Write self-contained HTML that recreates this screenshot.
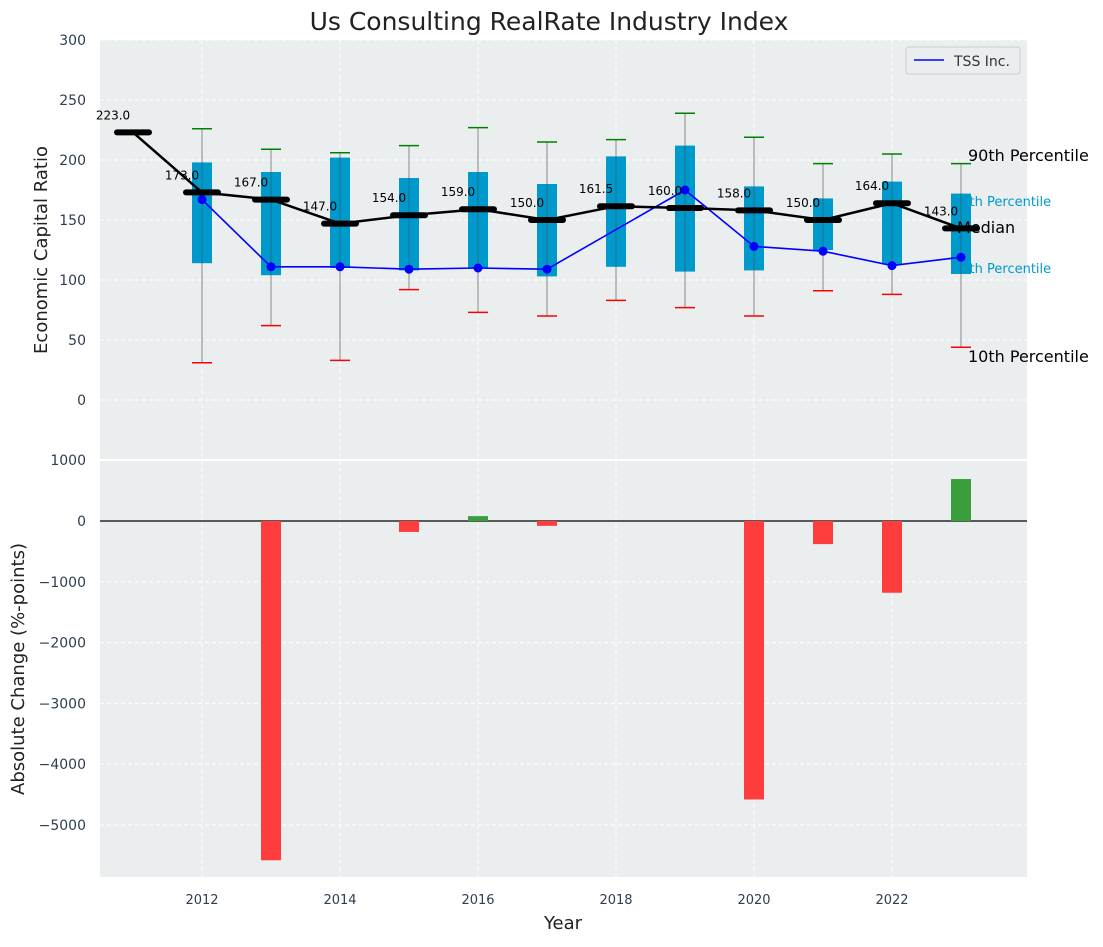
<!DOCTYPE html>
<html><head><meta charset="utf-8"><style>
body{margin:0;background:#fff;font-family:"Liberation Sans","DejaVu Sans",sans-serif}
svg text{font-family:"DejaVu Sans","Liberation Sans",sans-serif}
</style></head><body>
<svg id="c" width="1103" height="942" xmlns="http://www.w3.org/2000/svg"></svg>
<script>
const years=[2011,2012,2013,2014,2015,2016,2017,2018,2019,2020,2021,2022,2023];
const medians=[223,173,167,147,154,159,150,161.5,160,158,150,164,143];
const q25=[null,114,104,110,108,110,103,111,107,108,125,113,105];
const q75=[null,198,190,202,185,190,180,203,212,178,168,182,172];
const p10=[null,31,62,33,92,73,70,83,77,70,91,88,44];
const p90=[null,226,209,206,212,227,215,217,239,219,197,205,197];
const tssYears=[2012,2013,2014,2015,2016,2017,2019,2020,2021,2022,2023];
const tss=[167,111,111,109,110,109,175,128,124,112,119];
const chgYears=[2013,2015,2016,2017,2020,2021,2022,2023];
const chg=[-5580,-180,80,-80,-4580,-380,-1180,690];
const topTicks=[0,50,100,150,200,250,300];
const botTicks=[1000,0,-1000,-2000,-3000,-4000,-5000];
const xTicks=[2012,2014,2016,2018,2020,2022];

const NS="http://www.w3.org/2000/svg",svg=document.getElementById('c');
function el(t,a,p){const e=document.createElementNS(NS,t);for(const k in a)e.setAttribute(k,a[k]);(p||svg).appendChild(e);return e;}
const X=y=>202+(y-2012)*69;
const Y1=v=>400-v*1.2;
const Y2=v=>521-v*0.0608;
const L=100,R=1027;
let e;
e=el('rect',{x:L,y:40,width:R-L,height:419,fill:'#eaeeef'});

e=el('rect',{x:L,y:461,width:R-L,height:416,fill:'#eaeeef'});

xTicks.forEach(t=>{[[40,459],[461,877]].forEach(r=>{el('line',{x1:X(t),x2:X(t),y1:r[0],y2:r[1],stroke:'#fff','stroke-dasharray':'4,3'});});
 e=el('text',{x:X(t),y:904,'text-anchor':'middle','font-size':13,fill:'#2e3e52'});e.textContent=t;
 });
topTicks.forEach(t=>{el('line',{x1:L,x2:R,y1:Y1(t),y2:Y1(t),stroke:'#fff','stroke-dasharray':'4,3'});
 e=el('text',{x:86,y:Y1(t)+5,'text-anchor':'end','font-size':14,fill:'#2e3e52'});e.textContent=t;
 });
botTicks.forEach(t=>{el('line',{x1:L,x2:R,y1:Y2(t),y2:Y2(t),stroke:'#fff','stroke-dasharray':'4,3'});
 e=el('text',{x:86,y:Y2(t)+5,'text-anchor':'end','font-size':14,fill:'#2e3e52'});e.textContent=(t<0?'\u2212'+(-t):t);
 });
[['75th Percentile',201],['25th Percentile',268]].forEach(p=>{e=el('text',{x:953,y:p[1]+5,'font-size':13,fill:'#0099cc'});e.textContent=p[0];
 });
years.forEach((y,i)=>{if(q25[i]==null)return;const x=X(y);
 e=el('line',{x1:x,x2:x,y1:Y1(p90[i]),y2:Y1(p10[i]),stroke:'#888','stroke-width':1});
 
 e=el('rect',{x:x-10,y:Y1(q75[i]),width:20,height:Y1(q25[i])-Y1(q75[i]),fill:'#0099cc'});
 
 el('line',{x1:x,x2:x,y1:Y1(q75[i]),y2:Y1(q25[i]),stroke:'#444','stroke-width':0.8,opacity:0.6});
 e=el('line',{x1:x-10,x2:x+10,y1:Y1(p90[i]),y2:Y1(p90[i]),stroke:'green','stroke-width':1.5});
 
 e=el('line',{x1:x-10,x2:x+10,y1:Y1(p10[i]),y2:Y1(p10[i]),stroke:'red','stroke-width':1.5});
 
});
e=el('polyline',{points:tssYears.map((y,i)=>X(y)+','+Y1(tss[i])).join(' '),fill:'none',stroke:'blue','stroke-width':1.6});

tssYears.forEach((y,i)=>{e=el('circle',{cx:X(y),cy:Y1(tss[i]),r:4.5,fill:'blue'});
 });
e=el('polyline',{points:years.map((y,i)=>X(y)+','+Y1(medians[i])).join(' '),fill:'none',stroke:'#000','stroke-width':2.5});

years.forEach((y,i)=>{e=el('line',{x1:X(y)-16,x2:X(y)+16,y1:Y1(medians[i]),y2:Y1(medians[i]),stroke:'#000','stroke-width':6,'stroke-linecap':'round'});
 
 e=el('text',{x:X(y)-20,y:Y1(medians[i])-13,'text-anchor':'middle','font-size':12,fill:'#000'});e.textContent=medians[i].toFixed(1);
 });
[['90th Percentile',968,161],['Median',957,233],['10th Percentile',968,362]].forEach(p=>{e=el('text',{x:p[1],y:p[2],'font-size':16,fill:'#000'});e.textContent=p[0];
 });
e=el('g',{});
el('rect',{x:906,y:47,width:114,height:27,fill:'#eaeeef',stroke:'#ccc',rx:3},e);
el('line',{x1:914,x2:944,y1:60,y2:60,stroke:'blue','stroke-width':1.6},e);
const lt=el('text',{x:954,y:66,'font-size':14,fill:'#333'},e);lt.textContent='TSS Inc.';
el('line',{x1:L,x2:R,y1:Y2(0),y2:Y2(0),stroke:'#000','stroke-width':1.2});
chgYears.forEach((y,i)=>{const v=chg[i];const y0=Y2(Math.max(v,0)),y1=Y2(Math.min(v,0));
 e=el('rect',{x:X(y)-10,y:y0,width:20,height:y1-y0,fill:v<0?'#ff3d3d':'#3a9e3a'});
 });
e=el('text',{x:549,y:30,'text-anchor':'middle','font-size':25,fill:'#222'});e.textContent='Us Consulting RealRate Industry Index';

e=el('text',{x:563,y:929,'text-anchor':'middle','font-size':18,fill:'#222'});e.textContent='Year';

e=el('text',{x:0,y:0,'text-anchor':'middle','font-size':18,fill:'#222',transform:'translate(47,250) rotate(-90)'});e.textContent='Economic Capital Ratio';

e=el('text',{x:0,y:0,'text-anchor':'middle','font-size':18,fill:'#222',transform:'translate(24,669) rotate(-90)'});e.textContent='Absolute Change (%-points)';

</script>
</body></html>
